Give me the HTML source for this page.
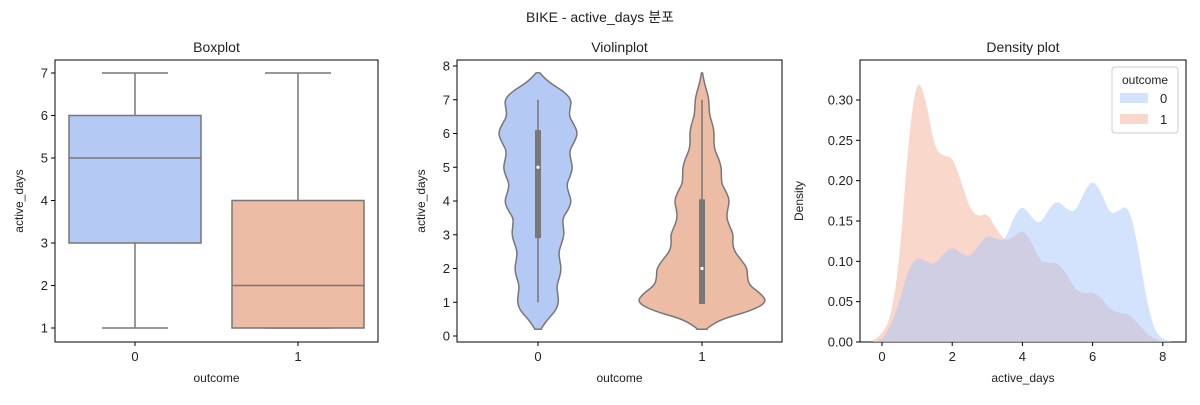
<!DOCTYPE html>
<html><head><meta charset="utf-8"><style>
body{margin:0;background:#fff}
svg text{font-family:"Liberation Sans","Noto Sans CJK KR",sans-serif;fill:#222}
</style></head><body>
<svg id="c" width="1200" height="400" xmlns="http://www.w3.org/2000/svg">
<text x="600" y="22" text-anchor="middle" font-size="14">BIKE - active_days 분포</text>
</svg>
<script>
const groups=['0','1'];
const boxStats=[[1,3,5,6,7],[1,1,2,4,7]];
const violinInner=[[1,2.9,5,6.1,7],[1,0.95,2,4.05,7]];
const kdeX=[-0.25,0,0.25,0.5,0.75,1,1.25,1.5,1.75,2,2.25,2.5,2.75,3,3.25,3.5,3.75,4,4.25,4.5,4.75,5,5.25,5.5,5.75,6,6.25,6.5,6.75,7,7.25,7.5,7.75,8,8.25];
const dens0=[0,0.003,0.02,0.05,0.09,0.105,0.1,0.095,0.11,0.118,0.11,0.105,0.12,0.133,0.128,0.125,0.155,0.17,0.155,0.145,0.165,0.176,0.165,0.16,0.185,0.202,0.185,0.158,0.163,0.17,0.13,0.06,0.015,0.003,0];
const dens1=[0.002,0.01,0.03,0.1,0.25,0.33,0.3,0.24,0.23,0.23,0.2,0.165,0.155,0.16,0.14,0.125,0.13,0.14,0.125,0.1,0.098,0.098,0.085,0.065,0.06,0.062,0.055,0.04,0.036,0.035,0.025,0.012,0.004,0,0];
const boxTicks=[1,2,3,4,5,6,7], vioTicks=[0,1,2,3,4,5,6,7,8];
const denYTicks=[0,0.05,0.10,0.15,0.20,0.25,0.30], denXTicks=[0,2,4,6,8];
const boxCol=['#b4c9f3','#edbca5'], denCol=['rgb(168,197,252)','rgb(244,176,150)'];
const svg=document.getElementById('c');
function el(t,a,p){const e=document.createElementNS('http://www.w3.org/2000/svg',t);for(const k in a)e.setAttribute(k,a[k]);(p||svg).appendChild(e);return e;}
function txt(s,a){const e=el('text',a);e.textContent=s;return e;}
function smooth(pts){let p='M'+pts[0][0].toFixed(1)+','+pts[0][1].toFixed(1);
  for(let k=1;k<pts.length;k++){const a=pts[k-1],b=pts[k];p+=` Q${a[0].toFixed(1)},${a[1].toFixed(1)} ${((a[0]+b[0])/2).toFixed(1)},${((a[1]+b[1])/2).toFixed(1)}`;}
  const z=pts[pts.length-1];p+=` L${z[0].toFixed(1)},${z[1].toFixed(1)}`;return p;}
const T=60,B=342;
function frame(L,R,name,title,xl,yl,off){
  const r=el('rect',{x:L,y:T,width:R-L,height:B-T,fill:'none',stroke:'#000','stroke-width':1});
  
  const t=txt(title,{x:(L+R)/2,y:T-8,'text-anchor':'middle','font-size':14});
  
  const x=txt(xl,{x:(L+R)/2,y:382,'text-anchor':'middle','font-size':12});
  
  const y=txt(yl,{x:0,y:0,'text-anchor':'middle','font-size':12,transform:`translate(${L-off},${(T+B)/2}) rotate(-90)`});
  
}
function yTicks(L,ticks,fy,fmt,name){ticks.forEach(v=>{const y=fy(v);
  const l=el('line',{x1:L-4,x2:L,y1:y,y2:y,stroke:'#000'});
  const t=txt(fmt(v),{x:L-7,y:y+4.5,'text-anchor':'end','font-size':13});});}
function xTicks(ticks,fx,labels,name){ticks.forEach((v,i)=>{const x=fx(v);
  const l=el('line',{x1:x,x2:x,y1:B,y2:B+4,stroke:'#000'});
  const t=txt(labels[i],{x:x,y:B+19,'text-anchor':'middle','font-size':13});});}
// Boxplot
{const L=55,R=378,by=v=>328-(v-1)*42.5,bx=i=>135+i*163;
frame(L,R,'boxplot','Boxplot','outcome','active_days',32);
yTicks(L,boxTicks,by,v=>String(v),'boxplot');xTicks([0,1],bx,groups,'boxplot');
boxStats.forEach((s,i)=>{const cx=bx(i),hw=66;
  [[s[0],s[1]],[s[3],s[4]]].forEach(p=>{const w=el('line',{x1:cx,x2:cx,y1:by(p[0]),y2:by(p[1]),stroke:'#777','stroke-width':1.5});});
  [s[0],s[4]].forEach(v=>{const c=el('line',{x1:cx-hw/2,x2:cx+hw/2,y1:by(v),y2:by(v),stroke:'#777','stroke-width':1.5});});
  const r=el('rect',{x:cx-hw,y:by(s[3]),width:2*hw,height:by(s[1])-by(s[3]),fill:boxCol[i],stroke:'#777','stroke-width':1.5});
  
  const m=el('line',{x1:cx-hw,x2:cx+hw,y1:by(s[2]),y2:by(s[2]),stroke:'#777','stroke-width':1.5});});}
// Violin
{const L=457,R=782,vy=v=>336-v*33.75,vx=i=>538+i*164,sc=197;
frame(L,R,'violinplot','Violinplot','outcome','active_days',32);
yTicks(L,vioTicks,vy,v=>String(v),'violinplot');xTicks([0,1],vx,groups,'violinplot');
[dens0,dens1].forEach((d,i)=>{const cx=vx(i);const pts=[];
  const lo=0.2,hi=7.8;
  function dAt(v){for(let k=0;k<kdeX.length-1;k++){if(v>=kdeX[k]&&v<=kdeX[k+1]){const t=(v-kdeX[k])/(kdeX[k+1]-kdeX[k]);return d[k]*(1-t)+d[k+1]*t;}}return 0;}
  const ys=[lo];kdeX.forEach(v=>{if(v>lo&&v<hi)ys.push(v);});ys.push(hi);
  ys.forEach(v=>pts.push([cx+dAt(v)*sc,vy(v)]));
  ys.slice().reverse().forEach(v=>pts.push([cx-dAt(v)*sc,vy(v)]));
  const v=el('path',{d:smooth(pts)+' Z',fill:boxCol[i],stroke:'#777','stroke-width':1.5,'stroke-linejoin':'round'});
  
  const s=violinInner[i];
  const w=el('line',{x1:cx,x2:cx,y1:vy(s[0]),y2:vy(s[4]),stroke:'#777','stroke-width':1.5});
  const b=el('rect',{x:cx-3,y:vy(s[3]),width:6,height:vy(s[1])-vy(s[3]),fill:'#777'});
  const m=el('circle',{cx:cx,cy:vy(s[2]),r:1.6,fill:'#fff'});});}
// Density
{const L=860,R=1186,dx=v=>882+v*35.1,dy=v=>342-v*806.7;
frame(L,R,'density','Density plot','active_days','Density',57);
[dens1,dens0].forEach((d,j)=>{const i=j===0?1:0;
  const pts=kdeX.map((v,k)=>[dx(v),dy(d[k])]);
  const p=`M${dx(kdeX[0])},${dy(0)} L`+smooth(pts).slice(1)+` L${dx(kdeX[kdeX.length-1])},${dy(0)} Z`;
  const a=el('path',{d:p,fill:denCol[i],'fill-opacity':0.5,stroke:'none'});
  });
yTicks(L,denYTicks,dy,v=>v.toFixed(2),'density');xTicks(denXTicks,dx,denXTicks.map(String),'density');
const g=el('g',{});
el('rect',{x:1112,y:67,width:66,height:66,rx:3,fill:'#fff','fill-opacity':0.8,stroke:'#ccc'},g);
const lt=el('text',{x:1145,y:84,'text-anchor':'middle','font-size':12},g);lt.textContent='outcome';
groups.forEach((n,i)=>{const r=el('rect',{x:1120,y:93+i*21,width:28,height:10,fill:denCol[i],'fill-opacity':0.5},g);
  
  const t=el('text',{x:1160,y:103+i*21,'font-size':13},g);t.textContent=n;
  });}
</script>
</body></html>
